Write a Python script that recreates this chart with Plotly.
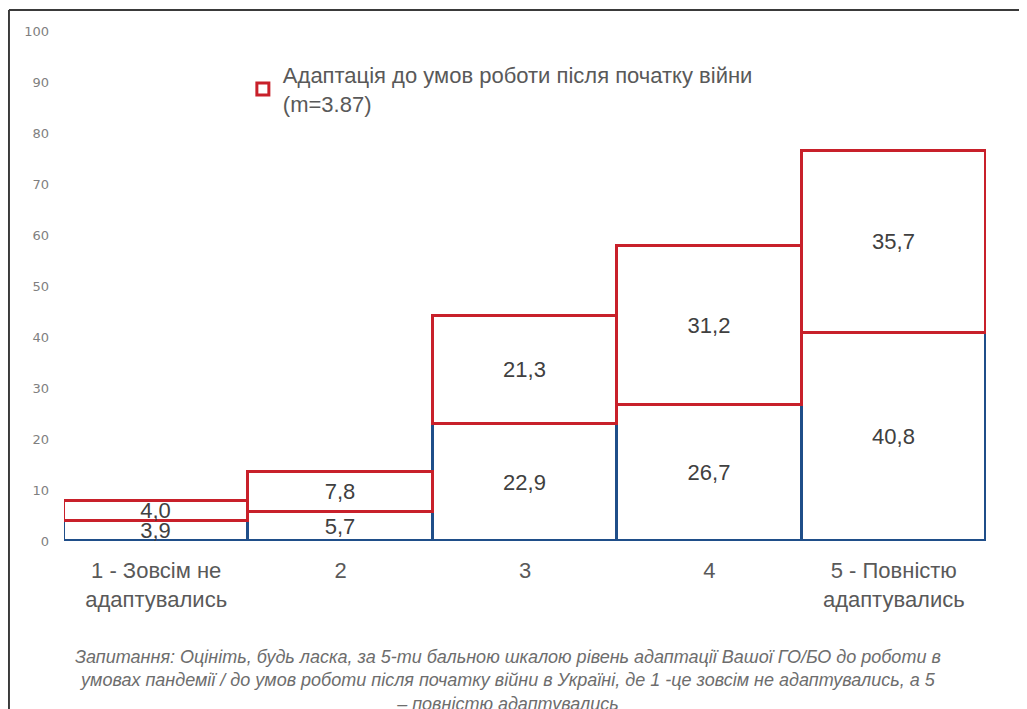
import plotly.graph_objects as go

categories = ["1 - Зовсім не<br>адаптувались", "2", "3", "4", "5 - Повністю<br>адаптувались"]
pandemic = [3.9, 5.7, 22.9, 26.7, 40.8]
war = [4.0, 7.8, 21.3, 31.2, 35.7]
war_name = "Адаптація до умов роботи після початку війни<br>(m=3.87)"
y_ticks = [0, 10, 20, 30, 40, 50, 60, 70, 80, 90, 100]
caption = ("Запитання: Оцініть, будь ласка, за 5-ти бальною шкалою рівень адаптації Вашої ГО/БО до роботи в<br>"
           "умовах пандемії / до умов роботи після початку війни в Україні, де 1 -це зовсім не адаптувались, а 5<br>"
           "– повністю адаптувались")

fig = go.Figure()
fig.add_trace(go.Bar(
    x=categories, y=pandemic,
    name="Адаптація до умов роботи в пандемії",
    showlegend=False,
    marker=dict(color="white", line=dict(color="#1F4E89", width=3)),
    texttemplate="%{y:.1f}", textposition="inside", insidetextanchor="middle",
    textfont=dict(size=22, color="#404040", family="Liberation Sans"),
))
fig.add_trace(go.Bar(
    x=categories, y=war,
    name=war_name,
    marker=dict(color="white", line=dict(color="#C8202A", width=3)),
    texttemplate="%{y:.1f}", textposition="inside", insidetextanchor="middle",
    textfont=dict(size=22, color="#404040", family="Liberation Sans"),
))

# the page body adds an 8px offset, so the figure is 8px smaller than the window
fig.update_layout(
    width=1019, height=701,
    barmode="stack", bargap=0,
    separators=", ",
    paper_bgcolor="white", plot_bgcolor="white",
    margin=dict(l=56, r=41, t=23, b=168),
    uniformtext=dict(mode="show", minsize=22),
    font=dict(family="Liberation Sans", color="#595959"),
    legend=dict(
        x=0.194, y=0.955, xanchor="left", yanchor="top",
        font=dict(size=22, color="#595959", family="Liberation Sans"),
        bgcolor="rgba(0,0,0,0)", itemwidth=30,
    ),
    xaxis=dict(
        showline=False, showgrid=False, ticks="",
        tickfont=dict(size=22, color="#595959", family="Liberation Sans"),
        ticklabelstandoff=14,
    ),
    yaxis=dict(
        range=[0, 100], tickvals=y_ticks, showgrid=False, zeroline=False,
        showline=False, ticks="",
        tickfont=dict(size=13, color="#7f7f7f", family="DejaVu Sans"),
        ticklabelstandoff=14,
    ),
    annotations=[dict(
        text=caption, xref="paper", yref="paper", x=0.482, y=-0.203,
        xanchor="center", yanchor="top", showarrow=False, align="center",
        font=dict(size=18, color="#6d6d6d", family="Liberation Sans", style="italic"),
    )],
    shapes=[
        dict(type="line", xref="paper", yref="paper", x0=-0.0597, x1=1.05, y0=1.041, y1=1.041,
             line=dict(color="#3a3a3a", width=2)),
        dict(type="line", xref="paper", yref="paper", x0=-0.0597, x1=-0.0597, y0=1.041, y1=-0.35,
             line=dict(color="#3a3a3a", width=2)),
    ],
)

fig.write_html("out.html")
